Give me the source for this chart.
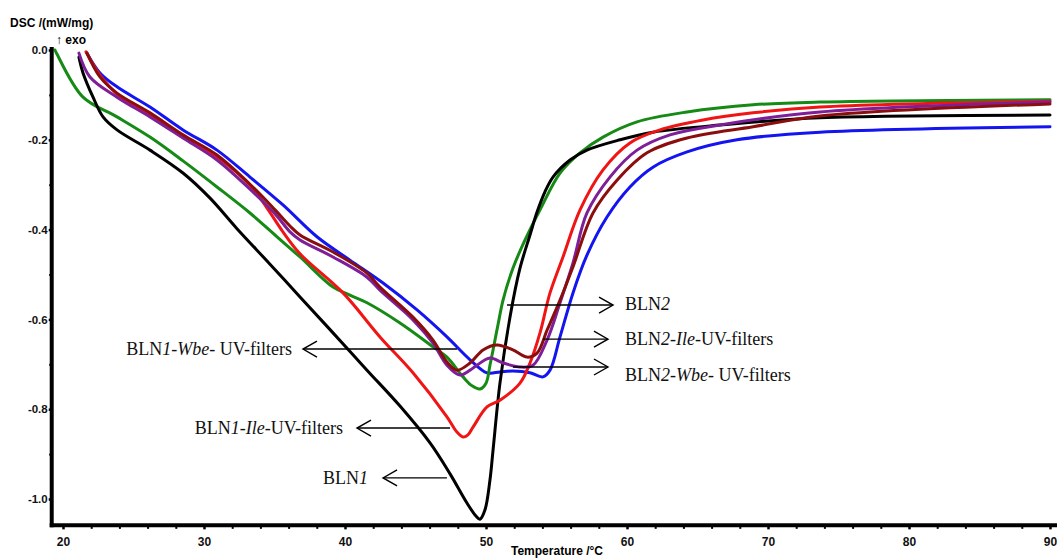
<!DOCTYPE html>
<html>
<head>
<meta charset="utf-8">
<script src="https://cdn.jsdelivr.net/npm/d3@7"></script>
<style>
  html, body { margin: 0; padding: 0; background: #fff; }
  #wrapper { width: 1057px; height: 559px; overflow: hidden; }
</style>
</head>
<body>
<div id="wrapper"></div>
<script>
// [temperature °C, DSC mW/mg]
let bln1WbeGreen = [
  [19.43, 0.0], [19.57, -0.009], [21.42, -0.105], [23.83, -0.149], [26.17, -0.194],
  [28.51, -0.247], [30.92, -0.305], [33.26, -0.363], [35.18, -0.416], [36.81, -0.461],
  [39.15, -0.528], [40.35, -0.546], [41.56, -0.563], [43.9, -0.608], [46.24, -0.661],
  [47.23, -0.684], [48.37, -0.728], [49.01, -0.748], [49.57, -0.755], [50.0, -0.742],
  [50.28, -0.702], [50.5, -0.668], [50.85, -0.612], [51.21, -0.557], [51.91, -0.486],
  [52.77, -0.423], [53.83, -0.356], [55.25, -0.274], [56.67, -0.229], [58.3, -0.194],
  [60.71, -0.16], [64.26, -0.138], [68.94, -0.122], [73.69, -0.116], [90.0, -0.111]
];

let bln1Black = [
  [21.13, -0.016], [21.42, -0.051], [22.13, -0.105], [22.84, -0.149], [23.83, -0.178],
  [26.17, -0.223], [28.51, -0.274], [30.43, -0.330], [32.34, -0.398], [34.68, -0.477],
  [36.81, -0.550], [39.15, -0.630], [41.56, -0.713], [43.9, -0.793], [46.03, -0.875],
  [47.45, -0.944], [48.65, -1.009], [49.29, -1.038], [49.57, -1.045], [49.93, -1.024],
  [50.28, -0.958], [50.5, -0.891], [50.99, -0.742], [51.7, -0.595], [52.41, -0.486],
  [53.12, -0.412], [53.62, -0.361], [54.18, -0.316], [54.75, -0.283], [55.96, -0.245],
  [57.16, -0.223], [59.5, -0.2], [61.84, -0.183], [66.6, -0.167], [73.69, -0.151],
  [90.0, -0.145]
];

let bln2WbeBlue = [
  [21.7, -0.007], [22.62, -0.051], [23.83, -0.082], [26.17, -0.127], [28.51, -0.178],
  [30.92, -0.223], [33.26, -0.283], [35.6, -0.345], [38.01, -0.416], [40.35, -0.468],
  [42.7, -0.519], [45.11, -0.579], [47.23, -0.639], [48.87, -0.69], [50.07, -0.719],
  [50.99, -0.717], [51.91, -0.715], [53.12, -0.719], [54.04, -0.728], [54.54, -0.713],
  [55.25, -0.639], [56.17, -0.541], [57.16, -0.457], [58.58, -0.372], [60.21, -0.305],
  [61.84, -0.261], [64.26, -0.227], [67.8, -0.2], [73.69, -0.183], [90.0, -0.171]
];

let bln2Purple = [
  [21.13, -0.007], [21.91, -0.06], [23.83, -0.105], [26.17, -0.149], [28.51, -0.196],
  [30.92, -0.245], [33.26, -0.310], [35.04, -0.365], [36.1, -0.405], [36.81, -0.423],
  [39.15, -0.461], [41.56, -0.506], [42.48, -0.535], [44.82, -0.601], [46.24, -0.653],
  [47.23, -0.702], [48.16, -0.724], [48.87, -0.713], [49.36, -0.702], [50.28, -0.686],
  [51.21, -0.697], [52.41, -0.706], [53.33, -0.702], [54.33, -0.646], [55.25, -0.563],
  [56.17, -0.474], [57.16, -0.363], [58.79, -0.283], [60.71, -0.223], [63.05, -0.189],
  [66.6, -0.167], [73.69, -0.138], [90.0, -0.116]
];

let bln2IleDarkRed = [
  [21.7, -0.007], [22.62, -0.06], [23.83, -0.096], [26.17, -0.14], [28.51, -0.189],
  [30.92, -0.234], [33.26, -0.299], [35.04, -0.356], [36.1, -0.392], [36.81, -0.412],
  [39.15, -0.45], [41.56, -0.497], [42.48, -0.528], [44.82, -0.595], [46.24, -0.646],
  [47.23, -0.695], [47.94, -0.713], [48.87, -0.697], [49.79, -0.668], [50.78, -0.657],
  [51.91, -0.668], [52.91, -0.684], [53.62, -0.675], [54.33, -0.624], [55.25, -0.557],
  [56.17, -0.483], [57.59, -0.363], [59.29, -0.29], [61.42, -0.229], [64.26, -0.196],
  [68.94, -0.171], [73.69, -0.147], [90.0, -0.12]
];

let bln1IleRed = [
  [21.63, -0.004], [22.62, -0.056], [23.83, -0.098], [26.17, -0.145], [28.51, -0.191],
  [30.92, -0.238], [33.26, -0.301], [34.47, -0.352], [35.6, -0.405], [36.81, -0.454],
  [39.86, -0.541], [42.48, -0.639], [44.82, -0.719], [47.23, -0.817], [47.94, -0.851],
  [48.37, -0.862], [48.72, -0.857], [49.08, -0.84], [50.07, -0.795], [50.99, -0.78],
  [52.41, -0.742], [53.12, -0.697], [53.83, -0.63], [54.54, -0.541], [55.46, -0.461],
  [56.67, -0.356], [58.3, -0.267], [60.21, -0.207], [62.34, -0.178], [65.39, -0.156],
  [68.94, -0.14], [73.69, -0.127], [90.0, -0.114]
];

let xMajorTicks = [20, 30, 40, 50, 60, 70, 80, 90];
let xMinorTicks = d3.range(20, 92, 2).filter(t => t % 10 !== 0);
let yMajorTicks = [0, -0.2, -0.4, -0.6, -0.8, -1.0];
let yMinorTicks = [-0.1, -0.3, -0.5, -0.7, -0.9];

// annotation arrows: from / to are [temperature, DSC], textAt is the text edge temperature
let arrowLabels = [
  { from: [47.94, -0.666], to: [37.02, -0.666], textAt: 36.24, side: "left",
    parts: [["BLN", false], ["1-Wbe-", true], [" UV-filters", false]] },
  { from: [47.45, -0.842], to: [40.85, -0.842], textAt: 39.86, side: "left",
    parts: [["BLN", false], ["1-Ile-", true], ["UV-filters", false]] },
  { from: [47.23, -0.953], to: [42.7, -0.953], textAt: 41.63, side: "left",
    parts: [["BLN", false], ["1", true]] },
  { from: [51.49, -0.568], to: [59.01, -0.568], textAt: 59.86, side: "right", dy: -1,
    parts: [["BLN", false], ["2", true]] },
  { from: [54.04, -0.644], to: [58.65, -0.644], textAt: 59.86, side: "right", dy: 0,
    parts: [["BLN", false], ["2-Ile-", true], ["UV-filters", false]] },
  { from: [51.91, -0.706], to: [58.65, -0.706], textAt: 59.86, side: "right", dy: 8,
    parts: [["BLN", false], ["2-Wbe-", true], [" UV-filters", false]] }
];

let dimensions = {
  width: 1057,
  height: 559
};

let series = [
  { values: bln2WbeBlue, color: "#1414f0" },
  { values: bln1WbeGreen, color: "#158a15" },
  { values: bln1Black, color: "#000000" },
  { values: bln1IleRed, color: "#f01414" },
  { values: bln2Purple, color: "#7e1e98" },
  { values: bln2IleDarkRed, color: "#8a0e0e" }
];

let wrapper = d3
  .select("#wrapper")
  .append("svg")
  .attr("width", dimensions.width)
  .attr("height", dimensions.height);

let xScale = d3
  .scaleLinear()
  .domain([20, 90])
  .range([63, 1050]);

let yScale = d3
  .scaleLinear()
  .domain([0, -1])
  .range([50, 499]);

let axisFont = "Liberation Sans, Arial, sans-serif";

// curves
let lineGenerator = d3
  .line()
  .x(d => xScale(d[0]))
  .y(d => yScale(d[1]))
  .curve(d3.curveCatmullRom.alpha(0.5));

wrapper
  .append("g")
  .selectAll("path")
  .data(series)
  .join("path")
  .attr("d", d => lineGenerator(d.values))
  .attr("fill", "none")
  .attr("stroke", d => d.color)
  .attr("stroke-width", 3)
  .attr("stroke-linejoin", "round")
  .attr("stroke-linecap", "round");

// axes
let xAxisY = yScale(-1.0587);
let yAxisX = xScale(19.2);

let yAxis = wrapper
  .append("g")
  .attr("transform", `translate(${yAxisX}, 0)`)
  .call(
    d3
      .axisLeft(yScale)
      .tickValues(yMajorTicks)
      .tickSize(3)
      .tickPadding(1)
      .tickFormat(d => d.toFixed(1))
  );
yAxis.select(".domain").remove();
yAxis
  .selectAll("line")
  .attr("stroke-width", 2.5);
yAxis
  .selectAll("text")
  .attr("font-family", axisFont)
  .attr("font-weight", "bold")
  .attr("font-size", 11.5)
  .attr("fill", "#111");

let yMinor = wrapper
  .append("g")
  .attr("transform", `translate(${yAxisX}, 0)`)
  .call(
    d3
      .axisLeft(yScale)
      .tickValues(yMinorTicks)
      .tickSize(2.5)
      .tickFormat("")
  );
yMinor.select(".domain").remove();
yMinor.selectAll("line").attr("stroke-width", 2);

let xAxis = wrapper
  .append("g")
  .attr("transform", `translate(0, ${xAxisY})`)
  .call(
    d3
      .axisBottom(xScale)
      .tickValues(xMajorTicks)
      .tickSize(4)
      .tickPadding(8)
      .tickFormat(d3.format("d"))
  );
xAxis.select(".domain").remove();
xAxis.selectAll("line").attr("stroke-width", 2.5);
xAxis
  .selectAll("text")
  .attr("font-family", axisFont)
  .attr("font-weight", "bold")
  .attr("font-size", 12)
  .attr("fill", "#111");

let xMinor = wrapper
  .append("g")
  .attr("transform", `translate(0, ${xAxisY})`)
  .call(
    d3
      .axisBottom(xScale)
      .tickValues(xMinorTicks)
      .tickSize(3.5)
      .tickFormat("")
  );
xMinor.select(".domain").remove();
xMinor.selectAll("line").attr("stroke-width", 2);

// thick axis lines
wrapper
  .append("line")
  .attr("x1", yAxisX)
  .attr("x2", yAxisX)
  .attr("y1", yScale(0.0067))
  .attr("y2", xAxisY + 2)
  .attr("stroke", "black")
  .attr("stroke-width", 4);

wrapper
  .append("line")
  .attr("x1", yAxisX - 2)
  .attr("x2", dimensions.width)
  .attr("y1", xAxisY)
  .attr("y2", xAxisY)
  .attr("stroke", "black")
  .attr("stroke-width", 4);

// axis titles
wrapper
  .append("text")
  .attr("x", 10)
  .attr("y", 27)
  .attr("font-family", axisFont)
  .attr("font-weight", "bold")
  .attr("font-size", 12)
  .text("DSC /(mW/mg)");

wrapper
  .append("text")
  .attr("x", 56)
  .attr("y", 44)
  .attr("font-family", axisFont)
  .attr("font-weight", "bold")
  .attr("font-size", 12)
  .text("\u2191 exo");

wrapper
  .append("text")
  .attr("x", 511)
  .attr("y", 555)
  .attr("font-family", axisFont)
  .attr("font-weight", "bold")
  .attr("font-size", 12)
  .text("Temperature /\u00b0C");

// annotation arrows and labels
let notes = wrapper
  .append("g")
  .selectAll("g")
  .data(arrowLabels)
  .join("g");

notes
  .append("line")
  .attr("x1", d => xScale(d.from[0]))
  .attr("y1", d => yScale(d.from[1]))
  .attr("x2", d => xScale(d.to[0]))
  .attr("y2", d => yScale(d.to[1]))
  .attr("stroke", "black")
  .attr("stroke-width", 1.4);

notes
  .append("path")
  .attr("d", d => {
    let tx = xScale(d.to[0]);
    let ty = yScale(d.to[1]);
    let s = d.side === "left" ? 1 : -1;
    return `M${tx + s * 14},${ty - 8}L${tx},${ty}L${tx + s * 14},${ty + 8}`;
  })
  .attr("fill", "none")
  .attr("stroke", "black")
  .attr("stroke-width", 1.4);

let noteText = notes
  .append("text")
  .attr("x", d => xScale(d.textAt))
  .attr("y", d => yScale(d.to[1]) + (d.dy || 0))
  .attr("dy", "0.33em")
  .attr("text-anchor", d => (d.side === "left" ? "end" : "start"))
  .attr("font-family", "Liberation Serif, Times New Roman, serif")
  .attr("font-size", 18)
  .attr("fill", "#111");

noteText
  .selectAll("tspan")
  .data(d => d.parts)
  .join("tspan")
  .attr("font-style", d => (d[1] ? "italic" : "normal"))
  .style("white-space", "pre")
  .text(d => d[0]);
</script>
</body>
</html>
